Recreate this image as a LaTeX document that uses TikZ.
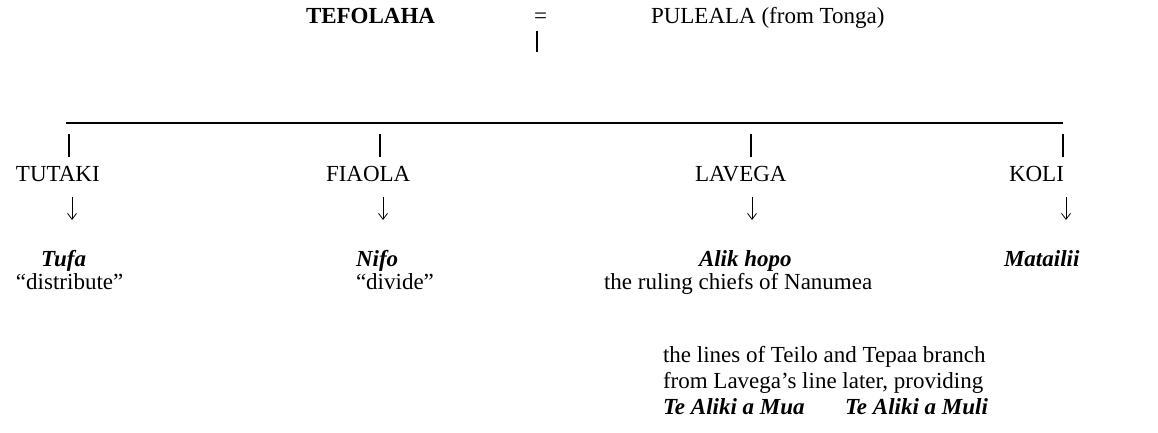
\documentclass[tikz,border=0pt]{standalone}
\usepackage{fontspec}
\setmainfont{Liberation Serif}
\usetikzlibrary{arrows.meta}
\begin{document}
\begin{tikzpicture}[x=1pt,y=-1pt,
  txt/.style={inner sep=0pt, outer sep=0pt, anchor=base west, font=\fontsize{23}{27}\selectfont},
  bl/.style={txt, font=\fontsize{23}{27}\selectfont\bfseries},
  bi/.style={txt, font=\fontsize{23}{27}\selectfont\bfseries\itshape},
  bar/.style={line width=1.1pt},
  darr/.style={line width=0.8pt, -{Straight Barb[length=6pt,width=9pt,line width=0.8pt]}}]
\useasboundingbox (0,0) rectangle (1158,433);
% top couple
\node[bl] (tef) at (306,24) {TEFOLAHA};
\node[txt] (eq) at (534,24) {=};
\node[txt] (pul) at (651,24) {PULEALA (from Tonga)};
\coordinate (st1) at (537,31);
\coordinate (st2) at (537,52);
\draw[bar] (st1) -- (st2);
% sibling line
\coordinate (hl) at (66,123);
\coordinate (hr) at (1063,123);
\draw[line width=1.1pt] (hl) -- (hr);
\foreach \n/\x in {a/69,b/380,c/751,d/1063}{
  \coordinate (\n1) at (\x,134);
  \coordinate (\n2) at (\x,157);
  \draw[bar] (\n1) -- (\n2);
}
% children
\node[txt] (tutaki) at (16,181) {TUTAKI};
\node[txt] (fiaola) at (326,181) {FIAOLA};
\node[txt] (lavega) at (695,181) {LAVEGA};
\node[txt] (koli) at (1009,181) {KOLI};
% arrows
\foreach \n/\x in {1/72,2/383,3/752,4/1066}{
  \coordinate (at\n) at (\x,197);
  \coordinate (ab\n) at (\x,220);
  \draw[darr] (at\n) -- (ab\n);
}
% titles
\node[bi] (tufa) at (41,266) {Tufa};
\node[txt] (tufag) at (16,289) {“distribute”};
\node[bi] (nifo) at (356,266) {Nifo};
\node[txt] (nifog) at (356,289) {“divide”};
\node[bi] (alik) at (699,266) {Alik hopo};
\node[txt] (alikg) at (604,289) {the ruling chiefs of Nanumea};
\node[bi] (mat) at (1004,266) {Matailii};
% note
\node[txt] (n1) at (663,362) {the lines of Teilo and Tepaa branch};
\node[txt] (n2) at (663,388) {from Lavega’s line later, providing};
\node[bi] (n3) at (663,414) {Te Aliki a Mua};
\node[bi] (n4) at (845,414) {Te Aliki a Muli};
\end{tikzpicture}
\end{document}
